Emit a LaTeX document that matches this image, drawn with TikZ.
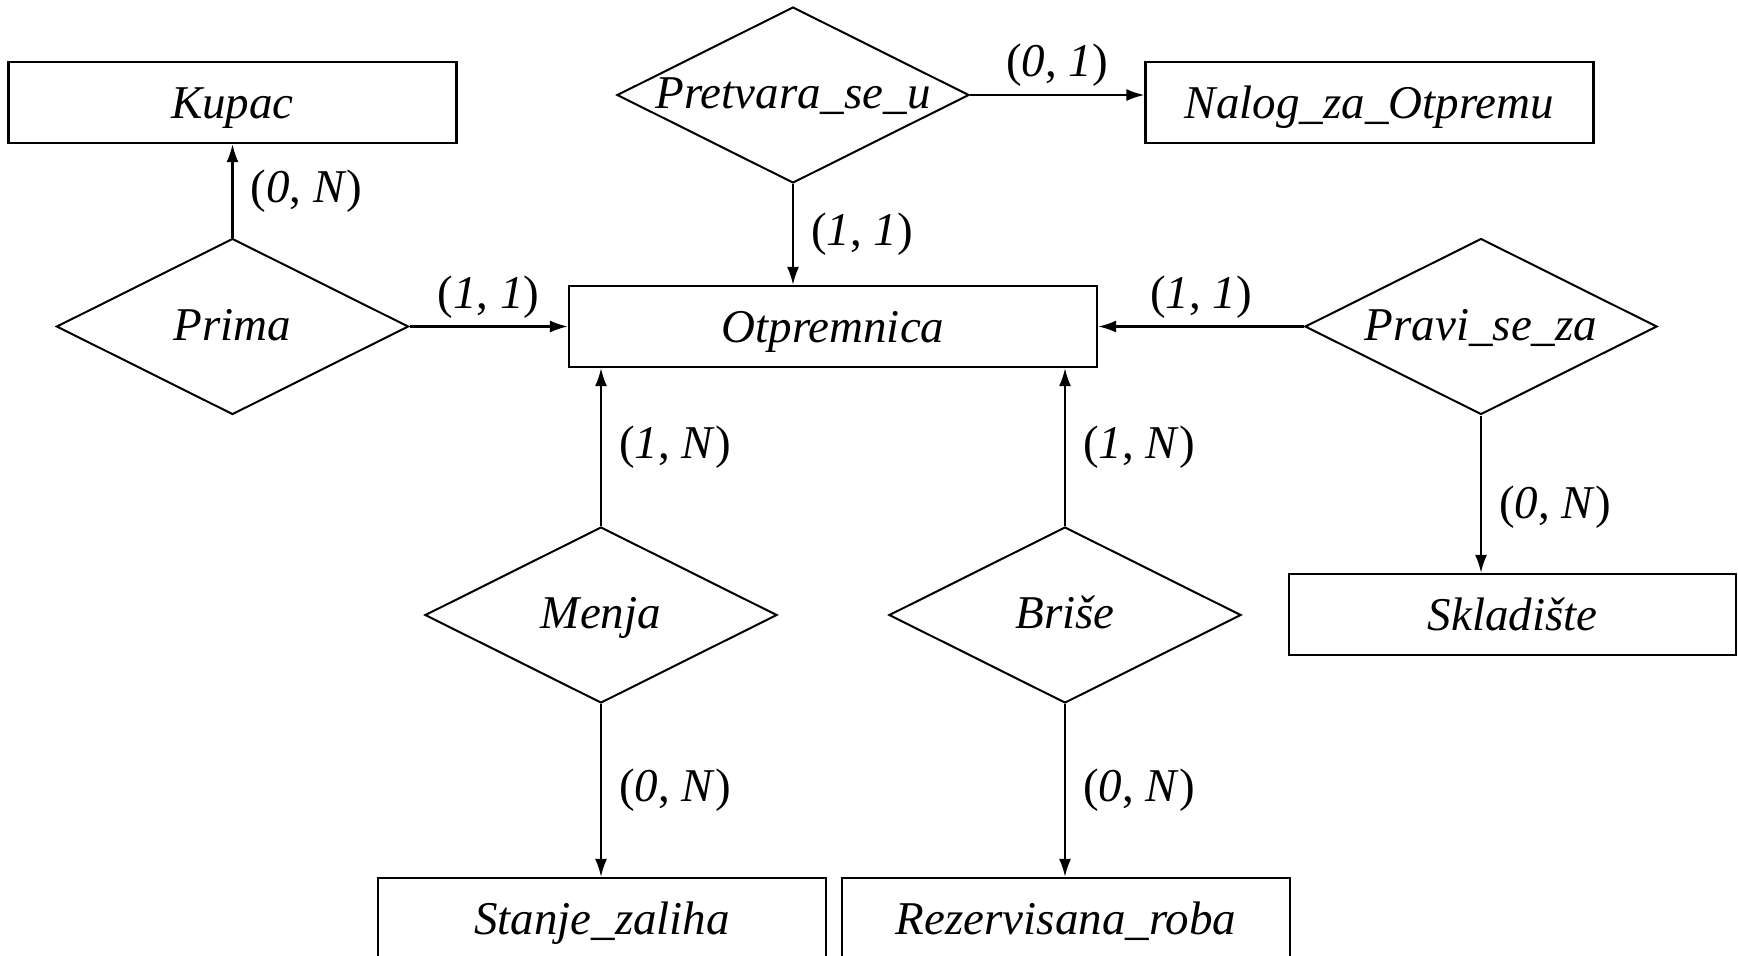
\documentclass[tikz,border=0pt]{standalone}
\usepackage{fontspec}
\setmainfont{Liberation Serif}
\usetikzlibrary{shapes.geometric}
\usetikzlibrary{arrows.meta}
\tikzset{
	entitet/.style = {draw, line width = 1.1pt, minimum width = 224pt, minimum height = 40.5pt, inner sep = 0pt, text height = 17.9pt, text depth = 2.3pt, font = \itshape\fontsize{23.5}{28}\selectfont},
	veza/.style = {draw, diamond, aspect = 2, line width = 1pt, minimum width = 176pt, minimum height = 88pt, inner sep = 0pt, text height = 14.1pt, text depth = 0.5pt, font = \itshape\fontsize{23.5}{28}\selectfont},
	spoj/.style = {line width = 1.1pt, -{Latex[length = 9pt, width = 6pt]}},
	kard/.style = {inner sep = 2pt, font = \fontsize{23.5}{28}\selectfont}
}
\newcommand{\kard}[2]{(\textit{#1}, \textit{#2})}
\begin{document}
\begin{tikzpicture}[x = 0.5pt, y = -0.5pt]
				\useasboundingbox (0,0) rectangle (1738,955);
				\node [entitet] (kupac) at (232.5,102.5) {Kupac};
				\node [entitet] (nalog) at (1369.5,102.5) {Nalog\_za\_Otpremu};
				\node [entitet, minimum width = 264pt] (otpremnica) at (833,326.5) {Otpremnica};
				\node [entitet, minimum width = 223.5pt] (skladiste) at (1512.5,614.5) {Skladište};
				\node [entitet] (stanje) at (602,918.5) {Stanje\_zaliha};
				\node [entitet] (rezervisana) at (1066,918.5) {Rezervisana\_roba};
				\node [veza] (prima) at (232.5,326.5) {Prima};
				\node [veza] (pretvara) at (793,95) {Pretvara\_se\_u};
				\node [veza] (pravi) at (1481,326.5) {Pravi\_se\_za};
				\node [veza] (menja) at (601,615) {Menja};
				\node [veza] (brise) at (1065,615) {Briše};
				\draw [spoj](prima.north)--(kupac.south) node [kard, midway, right = 6.5pt]{\kard{0}{N}};
				\draw [spoj](prima.east)--(otpremnica.west) node [kard, midway, above = 1.5pt]{\kard{1}{1}};
				\draw [spoj](pretvara.east)--(pretvara.east -| nalog.west) node [kard, midway, above = 1.5pt]{\kard{0}{1}};
				\draw [spoj](pretvara.south)--(pretvara.south |- otpremnica.north) node [kard, midway, right = 6.5pt]{\kard{1}{1}};
				\draw [spoj](pravi.west)--(otpremnica.east) node [kard, midway, above = 1.5pt]{\kard{1}{1}};
				\draw [spoj](pravi.south)--(pravi.south |- skladiste.north) node [kard, pos = 0.58, right = 6.5pt]{\kard{0}{N}};
				\draw [spoj](menja.north)--(menja.north |- otpremnica.south) node [kard, midway, right = 6.5pt]{\kard{1}{N}};
				\draw [spoj](menja.south)--(menja.south |- stanje.north) node [kard, midway, right = 6.5pt]{\kard{0}{N}};
				\draw [spoj](brise.north)--(brise.north |- otpremnica.south) node [kard, midway, right = 6.5pt]{\kard{1}{N}};
				\draw [spoj](brise.south)--(brise.south |- rezervisana.north) node [kard, midway, right = 6.5pt]{\kard{0}{N}};
\end{tikzpicture}
\end{document}
